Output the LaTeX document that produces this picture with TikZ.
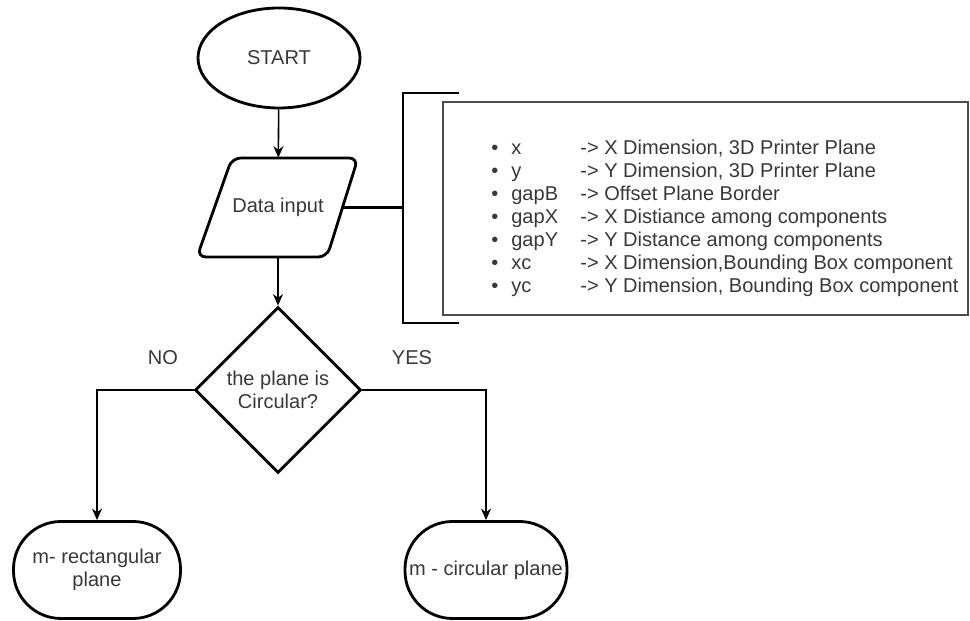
\documentclass[tikz,border=0pt]{standalone}
\usepackage{fontspec}
\setmainfont{Liberation Sans}
\usepackage{tikz}
\usetikzlibrary{shapes.geometric, arrows.meta}

\tikzset{
    txt/.style={text=black!78, font=\fontsize{11.4}{13.4}\selectfont},
    terminal/.style={txt, draw, line width=1.6pt, rectangle, rounded corners=0.95cm,
        minimum width=#1, minimum height=1.94cm, inner sep=0pt, align=center},
    flow/.style={line width=0.9pt, -{Stealth[length=2.3mm, width=2mm]}}
}

\begin{document}
\begin{tikzpicture}
\useasboundingbox (0,0) rectangle (19.4,12.42);
    % Inicio e entrada de dados:
    \node[txt, draw, line width=1.6pt, ellipse, minimum width=3.24cm, minimum height=2cm,
        inner sep=0pt] (start) at (5.58,11.26) {START};
    \draw[line width=1.6pt, rounded corners=5pt] (5.9,9.26) -- (7.16,9.26) -- (6.54,7.28)
        -- (3.94,7.28) -- (4.64,9.26) -- cycle;
    \node[txt, minimum width=2.2cm, minimum height=1.98cm, inner sep=0pt] (data) at (5.56,8.27) {Data input};
    \coordinate (dataright) at (6.85,8.27);
    \draw[flow] (start) -- (data);
    % Colchete com as variaveis:
    \coordinate (brk) at (8.06,8.27);
    \draw[line width=1.6pt] (9.18,10.56) -- (8.06,10.56) -- (8.06,5.96) -- (9.18,5.96);
    \draw[line width=1.6pt] (dataright) -- (brk);
    \draw[line width=1pt, black!70] (8.86,6.12) rectangle (19.36,10.38);
    \foreach \nm/\desc [count=\i] in {x/{X Dimension, 3D Printer Plane},
        y/{Y Dimension, 3D Printer Plane}, gapB/{Offset Plane Border},
        gapX/{X Distiance among components}, gapY/{Y Distance among components},
        xc/{X Dimension,Bounding Box component}, yc/{Y Dimension, Bounding Box component}}
    {
        \node[txt, anchor=mid, inner sep=0pt] (b\i) at (9.90,9.42-0.46*\i+0.46) {\textbullet};
        \node[txt, anchor=mid west, inner sep=0pt] (n\i) at (10.22,9.42-0.46*\i+0.46) {\nm};
        \node[txt, anchor=mid west, inner sep=0pt] (d\i) at (11.60,9.42-0.46*\i+0.46) {-> \desc};
    }
    % Decisao:
    \node[txt, draw, line width=1.6pt, diamond, aspect=1, minimum width=3.32cm,
        minimum height=3.32cm, inner sep=0pt, align=center] (dec) at (5.56,4.62) {the plane is\\Circular?};
    \draw[flow] (data) -- (dec);
    \node[txt] (no) at (3.26,5.26) {NO};
    \node[txt] (yes) at (8.24,5.26) {YES};
    % Saidas:
    \node[terminal=3.34cm] (rect) at (1.94,1.02) {m- rectangular\\plane};
    \node[terminal=3.24cm] (circ) at (9.72,1.02) {m - circular plane};
    \draw[flow] (dec.west) -| (rect.north);
    \draw[flow] (dec.east) -| (circ.north);
\end{tikzpicture}
\end{document}
